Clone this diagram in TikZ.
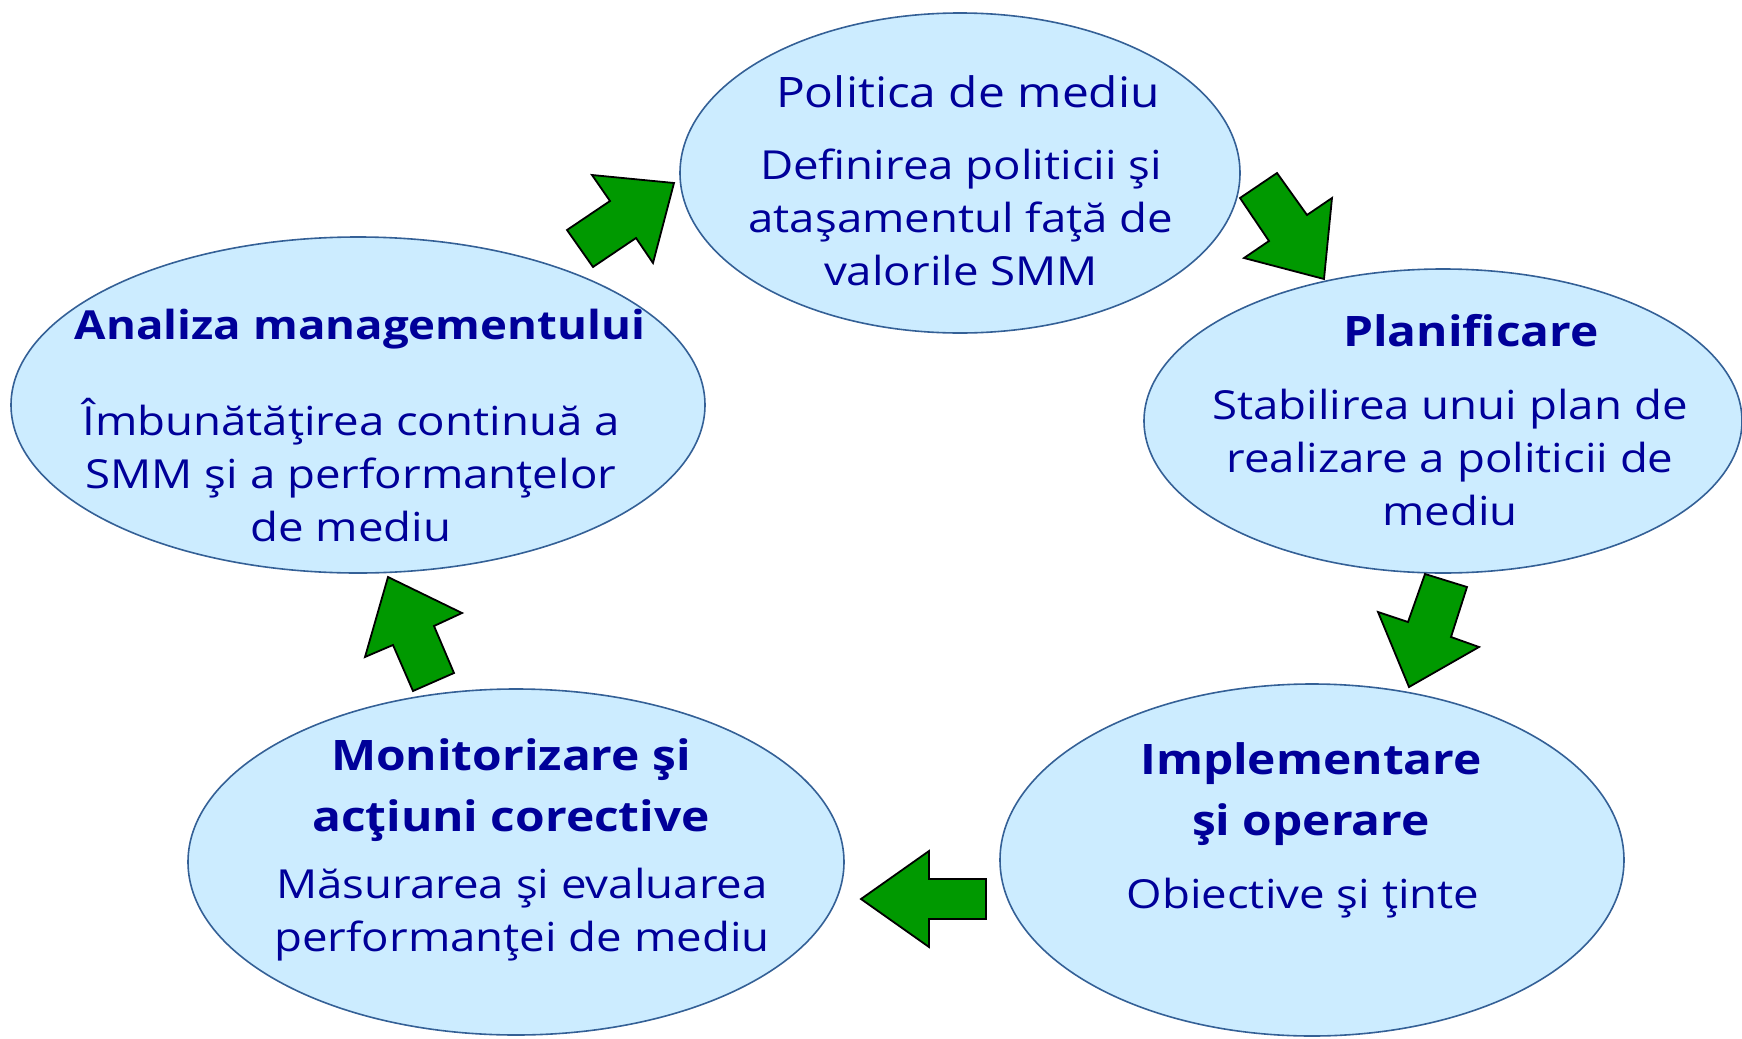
\documentclass[tikz,border=0pt]{standalone}
\usepackage{fontspec}
\setmainfont{Open Sans}[FakeStretch=1.14]
\usepackage{xcolor}
\usetikzlibrary{shapes.geometric}

\definecolor{ellfill}{RGB}{204,236,255}
\definecolor{elldraw}{RGB}{52,96,150}
\definecolor{txtblue}{RGB}{0,0,153}
\definecolor{arrgreen}{RGB}{0,153,0}

\tikzset{
  stage/.style={ellipse, draw=elldraw, fill=ellfill, line width=0.8pt, inner sep=0pt},
  headtxt/.style={text=txtblue, align=center, font=\fontsize{21}{30.5}\selectfont\bfseries},
  bodytxt/.style={text=txtblue, align=center, font=\fontsize{20}{26.5}\selectfont},
  blockarrow/.style={draw=black, fill=arrgreen, line width=0.9pt, line join=miter}
}

\begin{document}
\begin{tikzpicture}[x=0.5pt, y=-0.5pt]
	\useasboundingbox (0,0) rectangle (1742,1039);
	\clip (0,0) rectangle (1742,1039);

	% the five stages
	\node[stage, minimum width=280pt, minimum height=160pt] (pol) at (960,173) {};
	\node[stage, minimum width=299pt, minimum height=152pt] (pla) at (1443,421) {};
	\node[stage, minimum width=312pt, minimum height=176pt] (imp) at (1312,860) {};
	\node[stage, minimum width=328pt, minimum height=173pt] (mon) at (516,862) {};
	\node[stage, minimum width=347pt, minimum height=168pt] (ana) at (358,405) {};

	% texts
	\node[bodytxt, font=\fontsize{21}{26.5}\selectfont] (polHead) at (968,92) {Politica de mediu};
	\node[bodytxt] (polText) at (961,217) {Definirea politicii şi\\ataşamentul faţă de\\valorile SMM};

	\node[headtxt] (plaHead) at (1471,331) {Planificare};
	\node[bodytxt] (plaText) at (1450,457) {Stabilirea unui plan de\\realizare a politicii de\\mediu};

	\node[headtxt] (impHead) at (1311,794) {Implementare\\şi operare};
	\node[bodytxt] (impText) at (1303,898) {Obiective şi ţinte};

	\node[headtxt] (monHead) at (511,790) {Monitorizare şi\\acţiuni corective};
	\node[bodytxt] (monText) at (522,915) {Măsurarea şi evaluarea\\performanţei de mediu};

	\node[headtxt, font=\fontsize{20}{30.5}\selectfont\bfseries] (anaHead) at (360,329) {Analiza managementului};
	\node[bodytxt] (anaText) at (351,470) {Îmbunătăţirea continuă a\\SMM şi a performanţelor\\de mediu};

	% arrows between stages
	\draw[blockarrow] (592,175) -- (674,183) -- (653,263) -- (636,238) -- (593,267) -- (567,230) -- (610,201) -- cycle;
	\draw[blockarrow] (1277,173) -- (1307,215) -- (1332,198) -- (1324,279) -- (1244,258) -- (1269,241) -- (1240,198) -- cycle;
	\draw[blockarrow] (1425,574) -- (1467,587) -- (1451,637) -- (1479,647) -- (1409,687) -- (1378,612) -- (1408,622) -- cycle;
	\draw[blockarrow] (986,879) -- (986,919) -- (929,919) -- (929,947) -- (861,899) -- (929,851) -- (929,879) -- cycle;
	\draw[blockarrow] (388,577) -- (462,613) -- (434,626) -- (454,673) -- (413,691) -- (393,645) -- (365,657) -- cycle;
\end{tikzpicture}
\end{document}
